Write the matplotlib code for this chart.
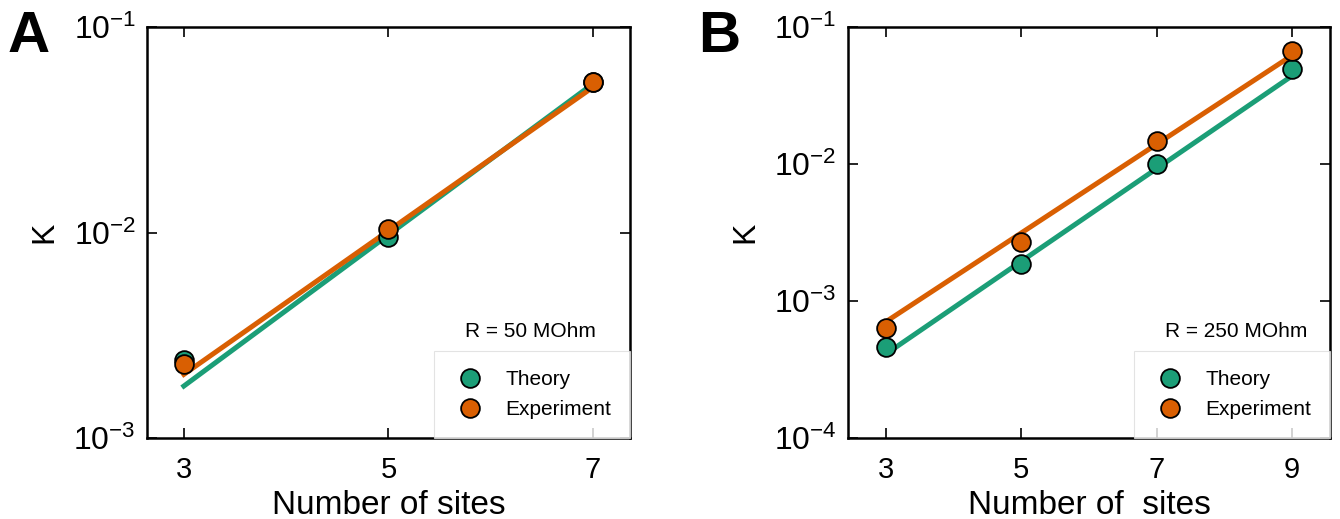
import matplotlib
matplotlib.use("Agg")
import matplotlib.pyplot as plt
from matplotlib.ticker import LogLocator, NullLocator, LogFormatterMathtext

plt.rcParams['font.family'] = ['Liberation Sans', 'DejaVu Sans']
plt.rcParams['mathtext.fontset'] = 'custom'
plt.rcParams['mathtext.rm'] = 'Liberation Sans'
plt.rcParams['mathtext.it'] = 'Liberation Sans'

# couleurs Dark2
theory_color = '#1b9e77'
exp_color = '#d95f02'

# Panel A : R = 50 MOhm
sites_a = [3, 5, 7]
theory_a = [2.41e-3, 9.5e-3, 5.37e-2]
exp_a = [2.28e-3, 1.04e-2, 5.37e-2]
line_sites_a = [3, 7]
theory_line_a = [1.79e-3, 5.3e-2]
exp_line_a = [2.04e-3, 5.1e-2]

# Panel B : R = 250 MOhm
sites_b = [3, 5, 7, 9]
theory_b = [4.63e-4, 1.87e-3, 1.0e-2, 4.93e-2]
exp_b = [6.4e-4, 2.7e-3, 1.48e-2, 6.7e-2]
line_sites_b = [3, 9]
theory_line_b = [4.1e-4, 4.4e-2]
exp_line_b = [7.06e-4, 6.2e-2]

fig = plt.figure(figsize=(13.4, 5.19), dpi=100)
ax_a = fig.add_axes([0.1097, 0.156, 0.3604, 0.792])
ax_b = fig.add_axes([0.6328, 0.156, 0.3597, 0.792])


def draw_panel(ax, sites, theory, exp, line_x, theory_line, exp_line,
               xlim, ylim, xlabel, rlabel, rx):
    ax.plot(line_x, theory_line, color=theory_color, lw=3.6, zorder=2)
    ax.plot(line_x, exp_line, color=exp_color, lw=3.6, zorder=2)
    ax.plot(sites, theory, 'o', color=theory_color, mec='black', mew=1.3,
            ms=13.5, label='Theory', zorder=3)
    ax.plot(sites, exp, 'o', color=exp_color, mec='black', mew=1.3,
            ms=13.5, label='Experiment', zorder=4)
    ax.set_yscale('log')
    ax.set_xlim(xlim)
    ax.set_ylim(ylim)
    ax.set_xticks(sites)
    ax.yaxis.set_major_locator(LogLocator(base=10))
    ax.yaxis.set_major_formatter(LogFormatterMathtext())
    ax.yaxis.set_minor_locator(NullLocator())
    ax.tick_params(direction='in', top=True, right=True, length=7, width=1.2)
    ax.tick_params(axis='x', labelsize=21, pad=13)
    ax.tick_params(axis='y', labelsize=23, pad=8)
    for sp in ax.spines.values():
        sp.set_linewidth(1.8)
    ax.set_xlabel(xlabel, fontsize=24, labelpad=4)
    ax.set_ylabel('K', fontsize=23, labelpad=10)
    leg = ax.legend(loc='lower right', borderaxespad=0, frameon=True,
                    fancybox=False, edgecolor='#dddddd', fontsize=15,
                    numpoints=1, handletextpad=0.9, borderpad=0.9,
                    labelspacing=0.55, handlelength=1.6, markerscale=1.0)
    leg.get_frame().set_linewidth(0.8)
    ax.text(rx, 0.258, rlabel, transform=ax.transAxes, ha='center',
            va='center', fontsize=15)


draw_panel(ax_a, sites_a, theory_a, exp_a, line_sites_a, theory_line_a,
           exp_line_a, (2.64, 7.36), (1e-3, 1e-1), 'Number of sites',
           'R = 50 MOhm', 0.793)
draw_panel(ax_b, sites_b, theory_b, exp_b, line_sites_b, theory_line_b,
           exp_line_b, (2.44, 9.56), (1e-4, 1e-1), 'Number of  sites',
           'R = 250 MOhm', 0.805)

fig.text(0.006, 0.98, 'A', fontsize=42, fontweight='bold', va='top')
fig.text(0.521, 0.98, 'B', fontsize=42, fontweight='bold', va='top')

fig.savefig('out.png', dpi=100)
